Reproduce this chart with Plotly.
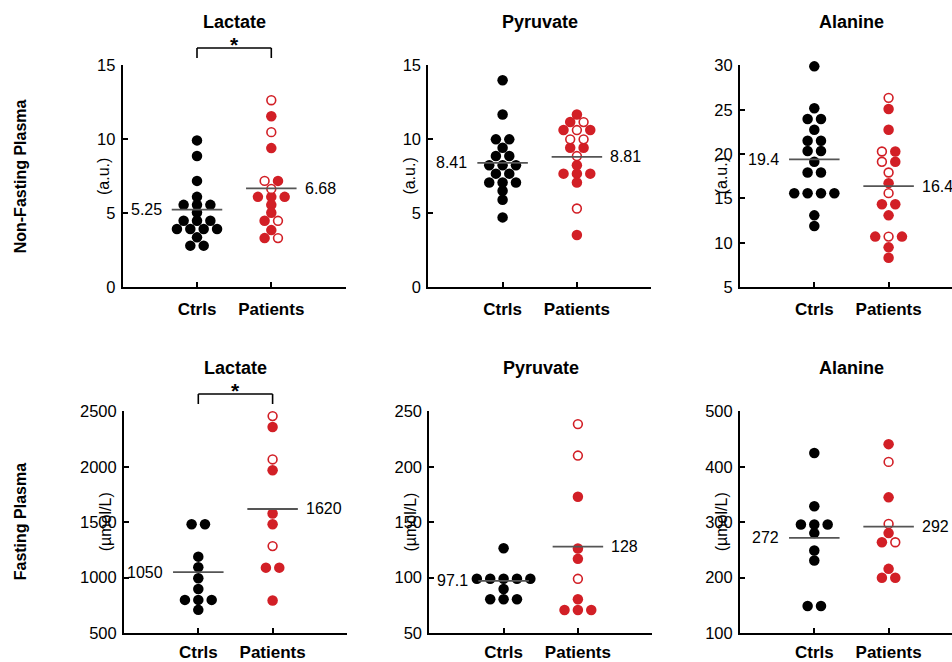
import plotly.graph_objects as go

# ---------------- data ----------------
categories = ["Ctrls", "Patients"]
panel_titles = ["Lactate", "Pyruvate", "Alanine", "Lactate", "Pyruvate", "Alanine"]
row_labels = ["Non-Fasting Plasma", "Fasting Plasma"]
unit_labels = ["(a.u.)", "(µmol/L)"]

# Non-fasting plasma
nf_lactate_ctrl = [9.93, 8.87, 7.19, 6.11, 5.57, 5.57, 5.57, 5.05, 4.49, 4.49, 4.49,
                   3.93, 3.93, 3.93, 3.93, 3.37, 2.81, 2.81]
nf_lactate_pat = [12.65, 11.57, 10.49, 9.41, 7.19, 7.19, 6.65, 6.11, 6.11, 6.11, 5.57,
                  5.03, 4.49, 4.49, 3.86, 3.32, 3.32]
nf_lactate_pat_open = [1, 0, 1, 0, 1, 0, 1, 0, 0, 0, 0, 0, 0, 1, 0, 0, 1]

nf_pyruvate_ctrl = [14.0, 11.68, 10.0, 10.0, 9.43, 8.87, 8.87, 8.25, 8.25, 8.25, 7.68, 7.68,
                    7.08, 7.08, 7.08, 6.52, 5.91, 4.72]
nf_pyruvate_pat = [11.68, 11.17, 11.17, 10.63, 10.63, 10.63, 10.0, 10.0, 9.43, 9.43, 8.87,
                   8.25, 7.68, 7.68, 7.68, 7.08, 5.32, 3.53]
nf_pyruvate_pat_open = [0, 0, 1, 0, 1, 0, 1, 1, 0, 0, 1, 0, 0, 0, 0, 0, 1, 0]

nf_alanine_ctrl = [29.9, 25.17, 23.97, 23.97, 22.76, 21.52, 21.52, 20.35, 20.35, 19.14,
                   17.93, 17.93, 15.6, 15.6, 15.6, 15.6, 13.1, 11.9]
nf_alanine_pat = [26.35, 25.1, 22.76, 20.3, 20.3, 19.14, 19.14, 17.93, 16.73, 15.6, 14.35,
                  14.35, 13.1, 10.7, 10.7, 10.7, 9.49, 8.32]
nf_alanine_pat_open = [1, 0, 0, 1, 0, 1, 0, 1, 0, 1, 0, 0, 0, 0, 1, 0, 0, 0]

# Fasting plasma
f_lactate_ctrl = [1483, 1483, 1190, 1094, 995, 898, 800, 800, 800, 710]
f_lactate_pat = [2458, 2359, 2067, 1969, 1579, 1483, 1285, 1091, 1091, 794]
f_lactate_pat_open = [1, 0, 1, 0, 0, 0, 1, 0, 0, 0]

f_pyruvate_ctrl = [126.6, 99.0, 99.0, 99.0, 99.0, 99.0, 89.8, 80.5, 80.5, 80.5]
f_pyruvate_pat = [238.6, 210.2, 173.0, 126.3, 117.0, 99.0, 80.5, 70.9, 70.9, 70.9]
f_pyruvate_pat_open = [1, 1, 0, 0, 0, 1, 0, 0, 0, 0]

f_alanine_ctrl = [425, 329, 296, 296, 296, 280.5, 249, 231, 149, 149]
f_alanine_pat = [441, 409, 345, 297, 280.5, 264, 264, 216, 200, 200]
f_alanine_pat_open = [0, 1, 0, 1, 0, 0, 1, 0, 0, 0]

# group means shown on the chart (ctrl, patients)
means = [[5.25, 6.68], [8.41, 8.81], [19.4, 16.4],
         [1050, 1620], [97.1, 128], [272, 292]]

y_ranges = [[0, 15], [0, 15], [5, 30], [500, 2500], [50, 250], [100, 500]]
y_ticks = [[0, 5, 10, 15], [0, 5, 10, 15], [5, 10, 15, 20, 25, 30],
           [500, 1000, 1500, 2000, 2500], [50, 100, 150, 200, 250],
           [100, 200, 300, 400, 500]]
significant = [True, False, False, True, False, False]

ctrl_sets = [nf_lactate_ctrl, nf_pyruvate_ctrl, nf_alanine_ctrl,
             f_lactate_ctrl, f_pyruvate_ctrl, f_alanine_ctrl]
pat_sets = [nf_lactate_pat, nf_pyruvate_pat, nf_alanine_pat,
            f_lactate_pat, f_pyruvate_pat, f_alanine_pat]
pat_open_sets = [nf_lactate_pat_open, nf_pyruvate_pat_open, nf_alanine_pat_open,
                 f_lactate_pat_open, f_pyruvate_pat_open, f_alanine_pat_open]

# ---------------- layout helpers ----------------
W, H = 952, 662
FONT = "Liberation Sans, Arial, sans-serif"
RED = "#d21f26"
PX_PER_UNIT = 74.3
STEP = 0.18          # horizontal spacing of swarm dots, in x units
HALF = 0.34          # half width of mean line
Y0, SY = 7.2, 0.977  # vertical calibration of the rendered page

row_px = [(64, 287), (412, 635)]           # (top, bottom) target pixels
col_px = [[122.7, 428.3, 740.0], [124.0, 429.3, 740.0]]


def swarm_offsets(values, step=STEP):
    groups = {}
    for i, v in enumerate(values):
        groups.setdefault(v, []).append(i)
    res = [0.0] * len(values)
    for idx in groups.values():
        n = len(idx)
        for k, i in enumerate(idx):
            res[i] = (k - (n - 1) / 2) * step
    return res


def py(p):
    """target pixel row -> paper fraction"""
    s = (p - Y0) / SY
    return (H - s) / H


fig = go.Figure()
shapes = []
annotations = []

for p in range(6):
    r, c = divmod(p, 3)
    ax = "" if p == 0 else str(p + 1)
    xref, yref = "x" + ax, "y" + ax
    left = col_px[r][c]
    right = left + 3 * PX_PER_UNIT
    xmax = 3.0
    if right > W:
        xmax = (W - left) / PX_PER_UNIT
        right = W
    top, bot = row_px[r]

    fig.layout["xaxis" + ax] = dict(
        domain=[left / W, right / W], range=[0, xmax], anchor=yref,
        tickvals=[1, 2], ticktext=["<b>%s</b>" % t for t in categories],
        ticks="inside", ticklen=5, tickwidth=1.5, tickcolor="black",
        showline=True, linecolor="black", linewidth=2, showgrid=False,
        zeroline=False, tickfont=dict(family=FONT, size=17, color="black"),
        ticklabelstandoff=5 if r == 0 else 2, fixedrange=True)
    fig.layout["yaxis" + ax] = dict(
        domain=[py(bot), py(top)], range=y_ranges[p], anchor=xref,
        tickvals=y_ticks[p], ticks="inside", ticklen=5, tickwidth=1.5,
        tickcolor="black", showline=True, linecolor="black", linewidth=2,
        showgrid=False, zeroline=False,
        tickfont=dict(family=FONT, size=16.5, color="black"),
        ticklabelstandoff=2, fixedrange=True)

    ctrl = ctrl_sets[p]
    pat = pat_sets[p]
    op = pat_open_sets[p]
    cx = [1 + o for o in swarm_offsets(ctrl)]
    pxs = [2 + o for o in swarm_offsets(pat)]
    fig.add_trace(go.Scatter(
        x=cx, y=ctrl, mode="markers", xaxis=xref, yaxis=yref, cliponaxis=False,
        marker=dict(size=10.5, color="black", line=dict(width=0)), showlegend=False))
    fx = [x for x, o in zip(pxs, op) if not o]
    fy = [y for y, o in zip(pat, op) if not o]
    ox = [x for x, o in zip(pxs, op) if o]
    oy = [y for y, o in zip(pat, op) if o]
    fig.add_trace(go.Scatter(
        x=fx, y=fy, mode="markers", xaxis=xref, yaxis=yref, cliponaxis=False,
        marker=dict(size=10.5, color=RED, line=dict(width=0)), showlegend=False))
    fig.add_trace(go.Scatter(
        x=ox, y=oy, mode="markers", xaxis=xref, yaxis=yref, cliponaxis=False,
        marker=dict(size=8.8, color="white", line=dict(width=1.6, color=RED)),
        showlegend=False))

    # mean lines + labels
    for g, m in enumerate(means[p]):
        xc = g + 1
        shapes.append(dict(type="line", xref=xref, yref=yref, x0=xc - HALF,
                           x1=xc + HALF, y0=m, y1=m, layer="above",
                           line=dict(color="#555555", width=1.8)))
        annotations.append(dict(
            x=xc - HALF if g == 0 else xc + HALF, y=m, xref=xref, yref=yref,
            text=f"{m:g}", showarrow=False,
            xanchor="right" if g == 0 else "left",
            xshift=-8 if g == 0 else 6, yanchor="middle",
            font=dict(family=FONT, size=16, color="black")))

    # panel title
    title_y = top - 43.5
    cx_title = (left + (left + 3 * PX_PER_UNIT)) / 2 / W
    annotations.append(dict(
        x=cx_title, y=py(title_y), xref="paper", yref="paper",
        text="<b>%s</b>" % panel_titles[p],
        showarrow=False, xanchor="center", yanchor="middle",
        font=dict(family=FONT, size=18, color="black")))

    # unit label
    annotations.append(dict(
        x=(left - 19) / W, y=py((top + bot) / 2), xref="paper", yref="paper",
        text=unit_labels[r], textangle=-90, showarrow=False,
        xanchor="center", yanchor="middle",
        font=dict(family=FONT, size=16, color="black")))

    if significant[p]:
        annotations.append(dict(
            x=1.5, y=py(title_y + 9), xref=xref, yref="paper", text="<b>*</b>",
            showarrow=False, xanchor="center", yanchor="top",
            font=dict(family=FONT, size=21, color="black")))
        yb = top - 17.5
        yt = top - 7.5
        shapes.append(dict(type="line", xref=xref, yref="paper", x0=1, x1=2,
                           y0=py(yb), y1=py(yb), line=dict(color="black", width=1.6)))
        for xx in (1, 2):
            shapes.append(dict(type="line", xref=xref, yref="paper", x0=xx, x1=xx,
                               y0=py(yb), y1=py(yt), line=dict(color="black", width=1.6)))

# row labels
for r, lab in enumerate(row_labels):
    top, bot = row_px[r]
    annotations.append(dict(
        x=20 / W, y=py((top + bot) / 2), xref="paper", yref="paper",
        text="<b>%s</b>" % lab, textangle=-90, showarrow=False,
        xanchor="center", yanchor="middle",
        font=dict(family=FONT, size=16, color="black")))

fig.update_layout(
    width=W, height=H, margin=dict(l=0, r=0, t=0, b=0),
    paper_bgcolor="white", plot_bgcolor="white",
    shapes=shapes, annotations=annotations, showlegend=False,
    font=dict(family=FONT, color="black"))

post = ("document.documentElement.style.margin='0';"
        "document.body.style.margin='0';"
        "document.body.style.overflow='hidden';"
        "var gd=document.getElementById('{plot_id}');"
        "gd.style.position='fixed';gd.style.top='0px';gd.style.left='0px';")

fig.write_html("out.html", config={"displayModeBar": False}, post_script=post)
